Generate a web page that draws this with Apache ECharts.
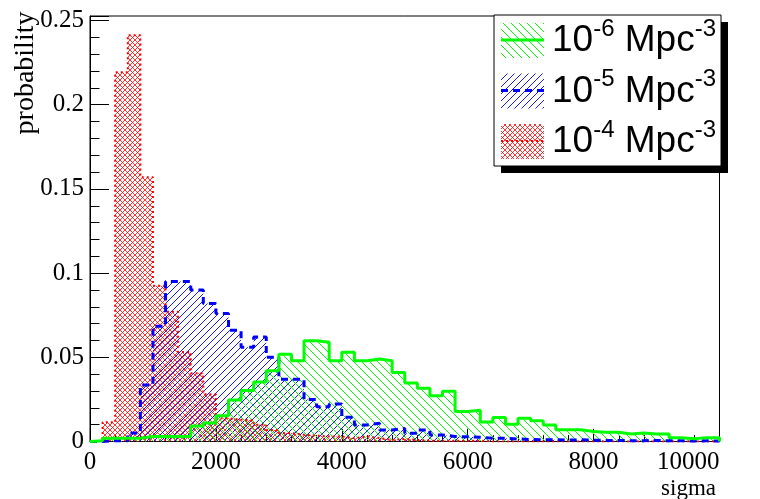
<!DOCTYPE html>
<html>
<head>
<meta charset="utf-8">
<script src="https://cdn.jsdelivr.net/npm/echarts@6/dist/echarts.min.js"></script>
<style>html,body{margin:0;padding:0;background:#fff}#main{width:760px;height:499px}</style>
</head>
<body>
<div id="main"></div>
<script>
var binWidth = 200;
var xTickLabels = ['0', '2000', '4000', '6000', '8000', '10000'];
var yTickLabels = ['0', '0.05', '0.1', '0.15', '0.2', '0.25'];
var legendPowers = ['-6', '-5', '-4'];

// probability per 200-wide sigma bin
var dens6 = [0.0005, 0.002, 0.002, 0.002, 0.003, 0.003, 0.003, 0.003, 0.0092, 0.011,
  0.0153, 0.0247, 0.0303, 0.0353, 0.042, 0.0518, 0.048, 0.0598, 0.059, 0.048,
  0.053, 0.048, 0.049, 0.048, 0.041, 0.0348, 0.0316, 0.0272, 0.0298, 0.0178,
  0.0185, 0.0116, 0.0142, 0.0103, 0.0138, 0.0123, 0.0098, 0.007, 0.007, 0.006,
  0.0055, 0.0055, 0.0045, 0.005, 0.0045, 0.0045, 0.0022, 0.0016, 0.0023, 0.0023];
var dens5 = [0, 0.0005, 0.0005, 0.005, 0.0336, 0.0685, 0.095, 0.095, 0.090, 0.082,
  0.076, 0.066, 0.056, 0.062, 0.050, 0.037, 0.037, 0.025, 0.0207, 0.0223,
  0.0144, 0.0098, 0.0108, 0.0068, 0.0078, 0.0049, 0.0068, 0.0039, 0.003, 0.0028,
  0.0025, 0.002, 0.002, 0.0015, 0.0012, 0.001, 0.001, 0.0008, 0.001, 0.0008,
  0.0006, 0.0006, 0.0005, 0.0005, 0.0006, 0.0004, 0.0004, 0.0003, 0.0004, 0.0003];
var dens4 = [0, 0.0114, 0.2193, 0.2413, 0.157, 0.0925, 0.077, 0.0532, 0.0405, 0.028,
  0.0138, 0.013, 0.0125, 0.010, 0.0068, 0.005, 0.004, 0.0035, 0.003, 0.003,
  0.002, 0.003, 0.002, 0.001, 0.0015, 0.001, 0.0005, 0.0005, 0.0005, 0.0005,
  0.0005, 0, 0, 0, 0, 0, 0, 0, 0, 0,
  0, 0, 0, 0, 0, 0, 0, 0, 0, 0];

// hatch tiles like ROOT fill styles
function hatch(color, size, dirs, width) {
    var c = document.createElement('canvas');
    c.width = size; c.height = size;
    var ctx = c.getContext('2d');
    ctx.strokeStyle = color;
    ctx.lineWidth = width;
    for (var k = -1; k <= 1; k++) {
        if (dirs.indexOf('\\') >= 0) {
            ctx.beginPath(); ctx.moveTo(k * size, 0); ctx.lineTo(k * size + size, size); ctx.stroke();
        }
        if (dirs.indexOf('/') >= 0) {
            ctx.beginPath(); ctx.moveTo(k * size, size); ctx.lineTo(k * size + size, 0); ctx.stroke();
        }
    }
    return { image: c, repeat: 'repeat' };
}
var patGreen = hatch('#00ff00', 8, '\\', 1);
var patBlue = hatch('#0000ff', 7, '/', 0.9);
var patRed = hatch('#ff0000', 5, '\\/', 0.8);

function histPoints(vals) {
    var pts = [[0, 0]];
    vals.forEach(function (v, i) { pts.push([i * binWidth, v]); });
    pts.push([vals.length * binWidth, vals[vals.length - 1]]);
    pts.push([vals.length * binWidth, 0]);
    return pts;
}

var serif = 'Liberation Serif';
var dom = document.getElementById('main');
var myChart = echarts.init(dom, null, { renderer: 'canvas' });

function legendRow(i, pat, line, y) {
    return [
        { type: 'rect', shape: { x: 501, y: y - 17, width: 43, height: 35 }, style: { fill: pat } },
        { type: 'line', shape: { x1: 501, y1: y, x2: 544, y2: y }, style: line },
        { type: 'text', x: 552, y: y + 1, style: {
            text: '10{sup|' + legendPowers[i] + '} Mpc{sup|-3}',
            fontFamily: 'Liberation Sans', fontSize: 37, fill: '#000',
            verticalAlign: 'middle',
            rich: { sup: { fontFamily: 'Liberation Sans', fontSize: 24, padding: [0, 0, 24, 0] } }
        } }
    ];
}

var option = {
    animation: false,
    grid: { left: 90, right: 40.5, top: 16, bottom: 57.5, show: true, borderColor: '#000', borderWidth: 1 },
    xAxis: {
        type: 'value', min: 0, max: 10000, interval: 2000,
        axisLine: { lineStyle: { color: '#000' } },
        axisTick: { inside: true, length: 12.7, lineStyle: { color: '#000' } },
        minorTick: { show: true, splitNumber: 5, length: 6.4, lineStyle: { color: '#000' } },
        splitLine: { show: false },
        axisLabel: {
            margin: 8, color: '#000', fontFamily: serif, fontSize: 25, alignMaxLabel: 'right',
            formatter: function (v) { return xTickLabels[Math.round(v / 2000)] || ''; }
        }
    },
    yAxis: {
        type: 'value', min: 0, max: 0.2527, interval: 0.05,
        axisLine: { show: true, lineStyle: { color: '#000' } },
        axisTick: { show: true, inside: true, length: 19, lineStyle: { color: '#000' } },
        minorTick: { show: true, splitNumber: 5, length: 9.5, lineStyle: { color: '#000' } },
        splitLine: { show: false },
        axisLabel: {
            margin: 6, color: '#000', fontFamily: serif, fontSize: 25, showMaxLabel: false,
            formatter: function (v) {
                var k = Math.round(v / 0.05);
                return Math.abs(v - k * 0.05) < 1e-6 ? (yTickLabels[k] || '') : '';
            }
        }
    },
    series: [
        { type: 'line', step: 'end', symbol: 'none', data: histPoints(dens4),
          lineStyle: { color: '#ff0000', width: 2, type: [2, 3] }, areaStyle: { color: patRed, opacity: 1 } },
        { type: 'line', step: 'end', symbol: 'none', data: histPoints(dens5),
          lineStyle: { color: '#0000ff', width: 3, type: [7, 5] }, areaStyle: { color: patBlue, opacity: 1 } },
        { type: 'line', step: 'end', symbol: 'none', data: histPoints(dens6),
          lineStyle: { color: '#00ff00', width: 3 }, areaStyle: { color: patGreen, opacity: 1 } }
    ],
    graphic: [
        { type: 'text', x: 26, y: 73, rotation: Math.PI / 2,
          style: { text: 'probability', fontFamily: serif, fontSize: 28, fill: '#000', align: 'center', verticalAlign: 'middle' } },
        { type: 'text', x: 716, y: 489,
          style: { text: 'sigma', fontFamily: serif, fontSize: 23, fill: '#000', align: 'right', verticalAlign: 'middle' } },
        { type: 'group', children: [
            { type: 'rect', shape: { x: 501, y: 22, width: 227, height: 151 }, style: { fill: '#000' } },
            { type: 'rect', shape: { x: 494, y: 15, width: 227, height: 151 }, style: { fill: '#fff', stroke: '#000', lineWidth: 1 } }
        ].concat(
            legendRow(0, patGreen, { stroke: '#00ff00', lineWidth: 3 }, 40),
            legendRow(1, patBlue, { stroke: '#0000ff', lineWidth: 3, lineDash: [7, 5] }, 90.5),
            legendRow(2, patRed, { stroke: '#ff0000', lineWidth: 2, lineDash: [2, 3] }, 141)
        ) }
    ]
};

if (option && typeof option === 'object') {
    myChart.setOption(option);
}

window.addEventListener('resize', myChart.resize);
</script>
</body>
</html>
